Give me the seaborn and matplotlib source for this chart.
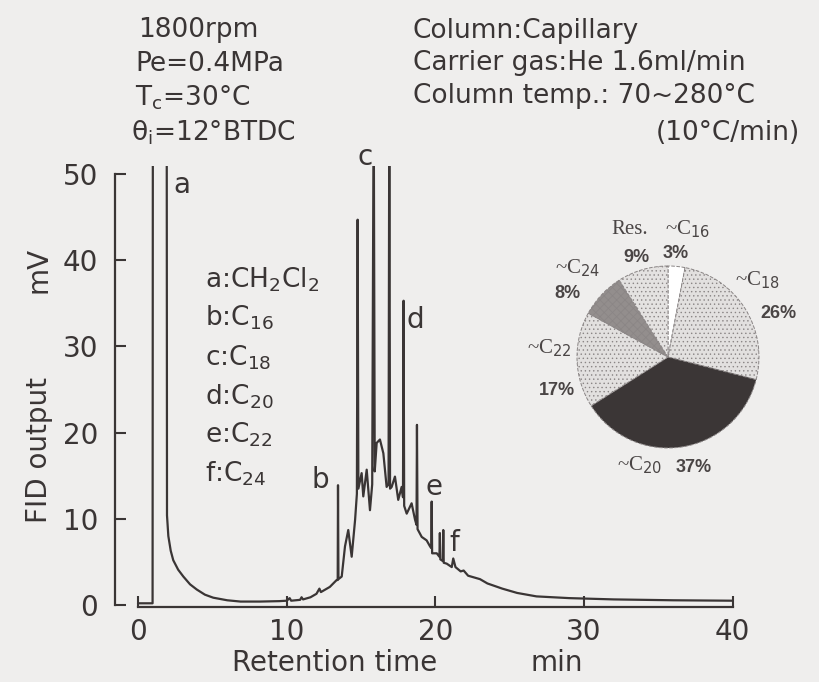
import numpy as np
import pandas as pd
import matplotlib
matplotlib.use("Agg")
import matplotlib.pyplot as plt
import seaborn as sns

# ---------------- data ----------------
time_min = [0.0, 0.98, 1.0, 1.93, 1.95, 2.04, 2.2, 2.37, 2.7, 3.05, 3.5, 3.95, 4.5, 5.06,
            6.0, 6.9, 8.2, 9.5, 10.0, 10.2, 10.3, 10.9, 11.0, 11.1, 11.6, 12.0, 12.2, 12.3,
            12.9, 13.36, 13.43, 13.45, 13.48, 13.7, 13.92, 14.14, 14.37, 14.6, 14.72, 14.77,
            14.82, 15.04, 15.15, 15.38, 15.6, 15.75, 15.85, 15.92, 16.05, 16.27, 16.5, 16.72,
            16.85, 16.9, 16.95, 17.06, 17.28, 17.5, 17.73, 17.82, 17.86, 17.9, 18.07, 18.4,
            18.63, 18.73, 18.76, 18.8, 19.08, 19.41, 19.64, 19.72, 19.75, 19.78, 20.09, 20.27,
            20.3, 20.33, 20.5, 20.53, 20.56, 20.76, 21.1, 21.2, 21.35, 21.7, 21.9, 22.2, 23.0,
            23.5, 24.5, 25.5, 26.8, 29.0, 32.0, 36.0, 40.0]
fid_mv = [0.2, 0.2, 60.0, 60.0, 10.4, 8.0, 6.3, 5.2, 4.1, 3.3, 2.4, 1.8, 1.2, 0.85,
          0.55, 0.4, 0.4, 0.45, 0.5, 0.8, 0.5, 0.6, 0.9, 0.65, 0.9, 1.3, 1.9, 1.5,
          2.1, 2.9, 2.9, 13.9, 3.0, 3.3, 6.8, 8.7, 5.6, 9.9, 12.9, 44.7,
          13.5, 15.3, 12.6, 15.7, 11.0, 14.0, 60.0, 15.5, 18.8, 19.2, 17.6, 13.7,
          14.0, 60.0, 13.5, 13.7, 14.9, 12.2, 13.7, 12.5, 35.3, 11.5, 10.6, 11.8,
          9.9, 9.3, 20.9, 8.8, 7.9, 7.5, 6.8, 6.6, 12.0, 6.0, 6.0, 5.6,
          8.35, 5.3, 5.1, 8.7, 4.9, 4.8, 4.4, 5.4, 4.4, 3.9, 4.0, 3.4, 3.0,
          2.5, 1.9, 1.4, 1.0, 0.8, 0.65, 0.55, 0.5]

x_ticks = [0, 10, 20, 30, 40]
y_ticks = [0, 10, 20, 30, 40, 50]

peak_letters = ["a", "b", "c", "d", "e", "f"]
peak_names = ["CH$_2$Cl$_2$", "C$_{16}$", "C$_{18}$", "C$_{20}$", "C$_{22}$", "C$_{24}$"]

pie_labels = ["~C$_{16}$", "~C$_{18}$", "~C$_{20}$", "~C$_{22}$", "~C$_{24}$", "Res."]
pie_values = [3, 26, 37, 17, 8, 9]

left_notes = ["1800rpm", "Pe=0.4MPa", "T$_\\mathrm{c}$=30°C", "θ$_\\mathrm{i}$=12°BTDC"]
right_notes = ["Column:Capillary", "Carrier gas:He 1.6ml/min", "Column temp.: 70~280°C"]
right_note_extra = "(10°C/min)"

# ---------------- style ----------------
BG = "#efeeed"
INK = "#3a3535"
sns.set_theme(style="white")
plt.rcParams["font.family"] = ["DejaVu Sans"]
plt.rcParams["mathtext.fontset"] = "dejavusans"
plt.rcParams["hatch.linewidth"] = 0.5

W, H = 820, 682
fig = plt.figure(figsize=(W / 100, H / 100), dpi=100, facecolor=BG)

def fx(px):
    return px / W

def fy(py):
    return 1 - py / H

# main axes: y spine at px 115, x=0 at px 138, 14.87 px / min ; y=0 at px 605, 8.62 px / mV
ax = fig.add_axes([fx(115), fy(607), fx(738) - fx(115), fy(166) - fy(607)])
ax.set_facecolor(BG)

df = pd.DataFrame({"t": time_min, "mv": fid_mv})
sns.lineplot(data=df, x="t", y="mv", ax=ax, sort=False, estimator=None,
             color=INK, linewidth=1.6)

ax.set_xlim(-1.547, 40.35)
ax.set_ylim(-0.23, 50.93)
ax.set_xticks(x_ticks)
ax.set_yticks(y_ticks)
ax.set_xticklabels([str(v) for v in x_ticks])
ax.set_yticklabels([str(v) for v in y_ticks])
for s in ["top", "right"]:
    ax.spines[s].set_visible(False)
ax.spines["left"].set_bounds(0, 50)
ax.spines["bottom"].set_bounds(0, 40)
for s in ["left", "bottom"]:
    ax.spines[s].set_color(INK)
    ax.spines[s].set_linewidth(1.6)
ax.tick_params(axis="both", direction="in", length=8, width=1.5, colors=INK,
               labelsize=20, labelcolor=INK, left=True, bottom=True)
ax.tick_params(axis="y", pad=12)
ax.tick_params(axis="x", pad=8)
ax.set_xlabel("")
ax.set_ylabel("")

# peak letters
peak_pos = [(2.94, 48.7), (12.24, 14.5), (15.27, 52.0), (18.63, 33.1), (19.9, 13.7), (21.3, 7.2)]
for letter, (t, v) in zip(peak_letters, peak_pos):
    ax.text(t, v, letter, fontsize=20, color=INK, ha="center", va="center", clip_on=False)

# compound legend block
leg_y = [280, 318, 358, 397, 435, 474]
for letter, name, py in zip(peak_letters, peak_names, leg_y):
    fig.text(fx(205), fy(py), f"{letter}:{name}", fontsize=19, color=INK,
             ha="left", va="center")

# axis titles
fig.text(fx(335), fy(663), "Retention time", fontsize=20, color=INK, ha="center", va="center")
fig.text(fx(557), fy(663), "min", fontsize=20, color=INK, ha="center", va="center")
fig.text(fx(39), fy(450), "FID output", fontsize=20, color=INK, ha="center", va="center",
         rotation=90)
fig.text(fx(39), fy(270), "mV", fontsize=20, color=INK, ha="center", va="center", rotation=90)

# header notes
left_xy = [(138, 30), (135, 64), (135, 98), (131, 133)]
for txt, (px, py) in zip(left_notes, left_xy):
    fig.text(fx(px), fy(py), txt, fontsize=19, color=INK, ha="left", va="center")
right_y = [31, 63, 96]
for txt, py in zip(right_notes, right_y):
    fig.text(fx(413), fy(py), txt, fontsize=19, color=INK, ha="left", va="center")
fig.text(fx(800), fy(133), right_note_extra, fontsize=19, color=INK, ha="right", va="center")

# ---------------- pie inset ----------------
pax = fig.add_axes([fx(577), fy(448), fx(759) - fx(577), fy(266) - fy(448)])
pax.set_facecolor("none")
face = ["#ffffff", "#e2e0df", "#3b3636", "#e2e0df", "#938e8d", "#e4e2e1"]
hatches = [None, "....", None, "....", "xxxx", "...."]
wedges, _ = pax.pie(pie_values, startangle=90, counterclock=False, colors=face,
                    wedgeprops=dict(edgecolor="#8a8585", linewidth=0.7, linestyle="--"))
for w, h in zip(wedges, hatches):
    if h:
        w.set_hatch(h)
pax.set_xlim(-1.0, 1.0)
pax.set_ylim(-1.0, 1.0)
pax.set_aspect("equal")
pax.axis("off")

serif = ["Liberation Serif", "DejaVu Serif"]
PIE_INK = "#4a4545"
pie_label_xy = [(688, 229), (757, 280), (640, 465), (549, 348), (578, 268), (630, 230)]
pie_pct_xy = [(676, 254), (778, 313), (694, 467), (557, 390), (567, 293), (636, 258)]
for lab, val, (lx, ly), (qx, qy) in zip(pie_labels, pie_values, pie_label_xy, pie_pct_xy):
    fig.text(fx(lx), fy(ly), lab, fontsize=15, color=PIE_INK, ha="center", va="center",
             family=serif)
    fig.text(fx(qx), fy(qy), f"{val}%", fontsize=13, color=PIE_INK, ha="center",
             va="center", fontweight="bold", family=["Liberation Sans", "DejaVu Sans"])

fig.savefig("out.png", dpi=100, facecolor=BG)
